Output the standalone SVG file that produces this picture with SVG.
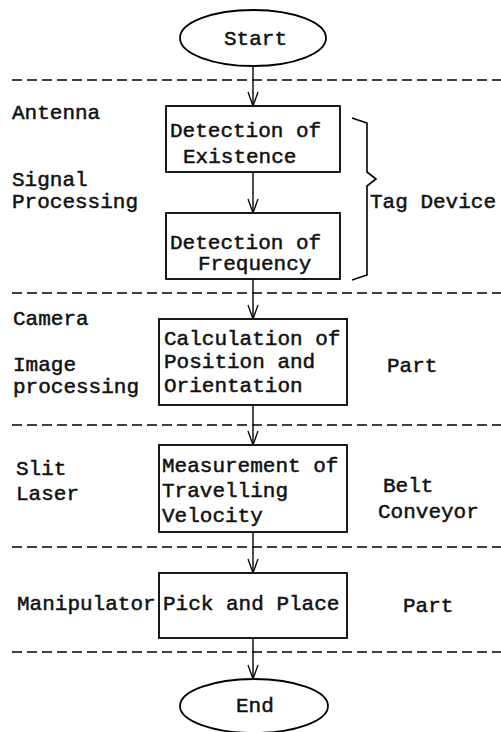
<svg xmlns="http://www.w3.org/2000/svg" width="501" height="732" viewBox="0 0 501 732">
  <defs>
    <!-- open V arrowhead, drawn along +x so orient="auto" points it down the line -->
    <marker id="arr" viewBox="0 0 16 12" refX="15" refY="6" markerWidth="16" markerHeight="12" markerUnits="userSpaceOnUse" orient="auto">
      <path d="M1,1 L15,6 L1,11" fill="none" stroke="#000" stroke-width="1.3"/>
    </marker>
  </defs>
  <style>
    text { font-family: "Liberation Mono", "DejaVu Sans Mono", monospace; font-size: 21px; fill: #111; stroke: #111; stroke-width: 0.5; }
    .box { fill: #fff; stroke: #000; stroke-width: 1.8; }
    .sep { stroke: #000; stroke-width: 1.3; stroke-dasharray: 10 5; fill: none; }
    .flow { stroke: #000; stroke-width: 1.4; fill: none; marker-end: url(#arr); }
  </style>
  <rect width="501" height="732" fill="#fff"/>

  <!-- lane separators -->
  <g id="separators">
    <line class="sep" x1="12" y1="80" x2="501" y2="80"/>
    <line class="sep" x1="12" y1="293" x2="501" y2="293"/>
    <line class="sep" x1="12" y1="425" x2="501" y2="425"/>
    <line class="sep" x1="12" y1="547" x2="501" y2="547"/>
    <line class="sep" x1="12" y1="652" x2="501" y2="652"/>
  </g>

  <!-- flow connectors -->
  <g id="connectors">
    <line class="flow" x1="253" y1="66" x2="253" y2="106"/>
    <line class="flow" x1="253" y1="172" x2="253" y2="213"/>
    <line class="flow" x1="253" y1="279" x2="253" y2="319"/>
    <line class="flow" x1="253" y1="405" x2="253" y2="445"/>
    <line class="flow" x1="253" y1="532" x2="253" y2="573"/>
    <line class="flow" x1="253" y1="638" x2="253" y2="679"/>
  </g>

  <g id="start">
    <ellipse cx="253" cy="38" rx="73" ry="28" fill="#fff" stroke="#000" stroke-width="1.8"/>
    <text x="224" y="45">Start</text>
  </g>

  <g id="detect-existence">
    <rect class="box" x="166" y="106" width="174" height="66"/>
    <text x="170" y="137">Detection of</text>
    <text x="183" y="163">Existence</text>
  </g>

  <g id="detect-frequency">
    <rect class="box" x="166" y="213" width="174" height="66"/>
    <text x="170" y="249">Detection of</text>
    <text x="198" y="270">Frequency</text>
  </g>

  <g id="tag-device">
    <path d="M352,118 L367,123 L367,172 L376,179 L367,186 L367,275 L352,280" fill="none" stroke="#000" stroke-width="1.6"/>
    <text x="370" y="208">Tag Device</text>
  </g>

  <g id="calc-position">
    <rect class="box" x="159" y="319" width="188" height="86"/>
    <text x="164" y="345">Calculation of</text>
    <text x="164" y="368">Position and</text>
    <text x="164" y="392">Orientation</text>
  </g>

  <g id="measure-velocity">
    <rect class="box" x="159" y="445" width="188" height="87"/>
    <text x="162" y="472">Measurement of</text>
    <text x="162" y="497">Travelling</text>
    <text x="162" y="522">Velocity</text>
  </g>

  <g id="pick-place">
    <rect class="box" x="159" y="573" width="188" height="65"/>
    <text x="163" y="610">Pick and Place</text>
  </g>

  <g id="end">
    <ellipse cx="254" cy="706" rx="74" ry="27" fill="#fff" stroke="#000" stroke-width="1.8"/>
    <text x="236" y="712">End</text>
  </g>

  <!-- left lane labels -->
  <g id="lane-labels-left">
    <text x="12" y="119">Antenna</text>
    <text x="12" y="186">Signal</text>
    <text x="12" y="208">Processing</text>
    <text x="13" y="325">Camera</text>
    <text x="13" y="371">Image</text>
    <text x="13" y="393">processing</text>
    <text x="16" y="475">Slit</text>
    <text x="16" y="500">Laser</text>
    <text x="17" y="610">Manipulator</text>
  </g>

  <!-- right lane labels -->
  <g id="lane-labels-right">
    <text x="387" y="372">Part</text>
    <text x="383" y="492">Belt</text>
    <text x="378" y="518">Conveyor</text>
    <text x="403" y="612">Part</text>
  </g>
</svg>
